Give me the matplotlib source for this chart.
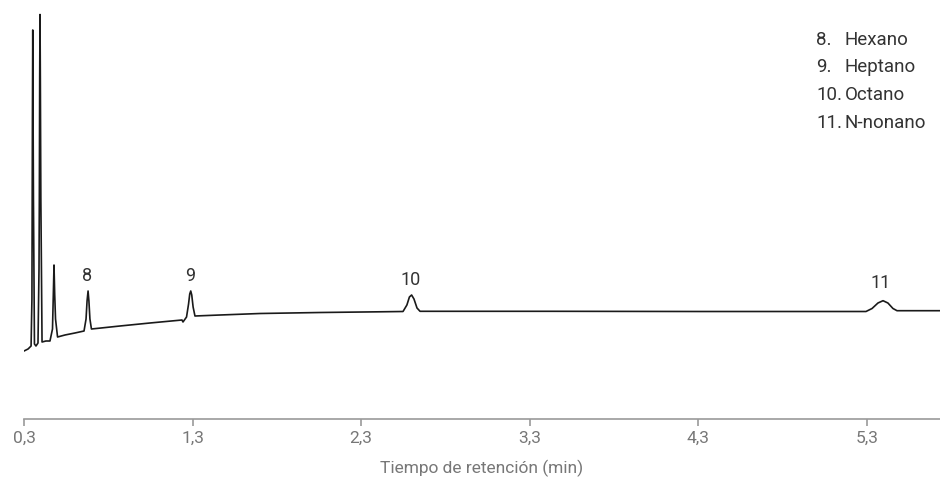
import matplotlib
matplotlib.use("Agg")
import matplotlib.pyplot as plt

plt.rcParams['font.family'] = ['Roboto', 'DejaVu Sans']

# trace: retention time (min), signal (arb. units)
tiempo = [0.300, 0.324, 0.342, 0.347, 0.350, 0.352, 0.354, 0.356, 0.362, 0.371,
          0.383, 0.389, 0.391, 0.393, 0.395, 0.397, 0.400, 0.407, 0.430, 0.454,
          0.469, 0.474, 0.478, 0.482, 0.487, 0.499, 0.543, 0.602, 0.656, 0.668,
          0.674, 0.680, 0.685, 0.691, 0.700, 0.757, 0.869, 1.047, 1.237, 1.243,
          1.264, 1.276, 1.283, 1.289, 1.295, 1.303, 1.314, 1.463, 1.700, 2.056,
          2.411, 2.548, 2.571, 2.586, 2.599, 2.613, 2.631, 2.649, 2.886, 3.432,
          4.309, 5.294, 5.330, 5.365, 5.395, 5.424, 5.454, 5.478, 5.733]
senal = [68, 70, 73, 120, 300, 389, 300, 220, 75, 73,
         76, 150, 220, 340, 404.5, 340, 220, 77, 78, 78,
         90, 125, 154, 125, 100, 82, 84, 86, 88, 100,
         118, 128, 118, 100, 90, 91, 93, 96, 99, 97,
         102, 115, 125, 128, 124, 112, 103, 104, 105.5, 106.5,
         107.2, 107.5, 114, 122, 124, 120, 111, 107.7, 107.7, 107.7,
         107.5, 107.5, 110.5, 116, 118.3, 116, 110.5, 108.3, 108.3]

# peak labels
picos = ['8', '9', '10', '11']
picos_t = [0.672, 1.288, 2.594, 5.381]
picos_y = [143.5, 144, 140.3, 136.7]

compuestos = ['Hexano', 'Heptano', 'Octano', 'N-nonano']
numeros = ['8.', '9.', '10.', '11.']

ticks = [0.3, 1.3, 2.3, 3.3, 4.3, 5.3]
tick_labels = ['0,3', '1,3', '2,3', '3,3', '4,3', '5,3']

fig = plt.figure(figsize=(9.4, 4.81), dpi=100)
ax = fig.add_axes([24/940, 61/481, 916/940, 420/481])

ax.plot(tiempo, senal, color='#1a1a1a', lw=1.2, solid_joinstyle='round')

for lab, t, y in zip(picos, picos_t, picos_y):
    ax.text(t, y, lab, ha='center', va='center', fontsize=13, color='#333333')

ax.set_xlim(0.3, 5.733)
ax.set_ylim(0, 420)
ax.set_xticks(ticks)
ax.set_xticklabels(tick_labels)
ax.set_yticks([])
for s in ['left', 'top', 'right']:
    ax.spines[s].set_visible(False)
ax.spines['bottom'].set_color('#9a9a9a')
ax.spines['bottom'].set_linewidth(1.2)
ax.tick_params(axis='x', colors='#9a9a9a', length=5, width=1.2, pad=3,
               labelcolor='#777777', labelsize=12.5)
ax.set_xlabel('Tiempo de retención (min)', fontsize=12.5, color='#777777', labelpad=10)

# legend block top right
for i, (n, c) in enumerate(zip(numeros, compuestos)):
    yy = 1 - (40 + 27.5*i)/481
    fig.text(816/940, yy, n, ha='left', va='center', fontsize=13.5, color='#333333')
    fig.text(845/940, yy, c, ha='left', va='center', fontsize=13.5, color='#333333')

fig.savefig('out.png', dpi=100)
